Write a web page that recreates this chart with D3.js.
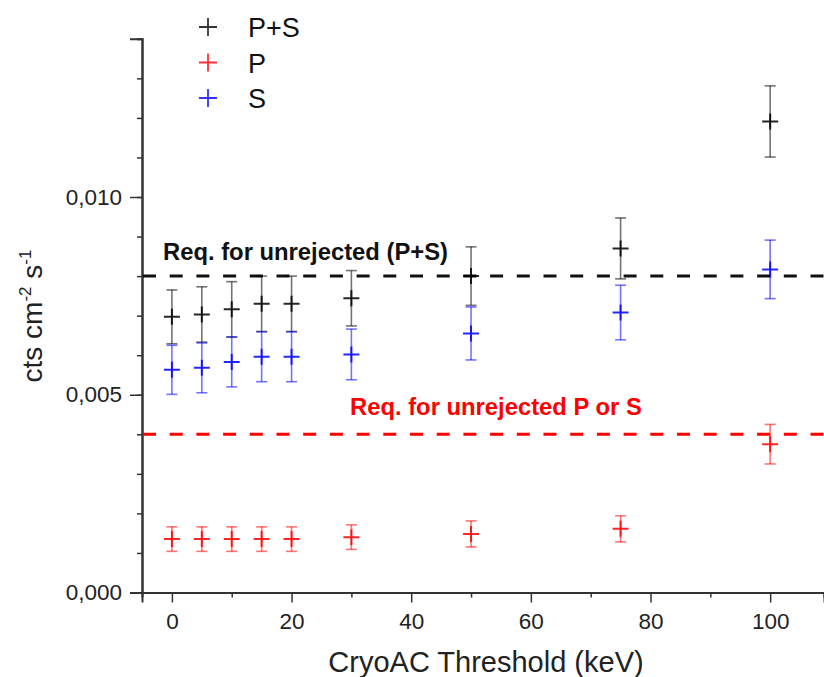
<!DOCTYPE html>
<html>
<head>
<meta charset="utf-8">
<script src="https://cdn.jsdelivr.net/npm/d3@7"></script>
<style>
  body { margin: 0; background: #fff; }
  svg { display: block; font-family: Arial, "Liberation Sans", sans-serif; }
</style>
</head>
<body>
<div id="chart"></div>
<script>
// thresholds (keV) and count rates
const thresholds = [0, 5, 10, 15, 20, 30, 50, 75, 100];
const psVal = [0.00697, 0.00703, 0.00716, 0.00730, 0.00730, 0.00744, 0.00800, 0.00870, 0.01191];
const psErr = [0.00068, 0.00070, 0.00070, 0.00070, 0.00070, 0.00070, 0.00074, 0.00077, 0.00090];
const pVal = [0.00135, 0.00135, 0.00135, 0.00135, 0.00135, 0.00140, 0.00148, 0.00161, 0.00375];
const pErr = [0.00031, 0.00031, 0.00031, 0.00031, 0.00031, 0.00031, 0.00033, 0.00033, 0.00050];
const sVal = [0.00563, 0.00568, 0.00583, 0.00596, 0.00596, 0.00602, 0.00655, 0.00708, 0.00817];
const sErr = [0.00062, 0.00063, 0.00063, 0.00063, 0.00063, 0.00064, 0.00067, 0.00069, 0.00074];
const seriesNames = ['P+S', 'P', 'S'];
const seriesColors = ['#000000', '#ff0000', '#0000ff'];
const reqValues = [0.008, 0.004];
const reqLabels = ['Req. for unrejected (P+S)', 'Req. for unrejected P or S'];
const xTicks = [0, 20, 40, 60, 80, 100];
const yTicks = [0, 0.005, 0.010];

const width = 824, height = 677;
const plotLeft = 142, plotBottom = 592.5, plotTop = 38.8;

const svg = d3.select('#chart').append('svg')
    .attr('width', width)
    .attr('height', height);

const x = d3.scaleLinear().domain([-5, 109]).range([plotLeft, width]);
const y = d3.scaleLinear().domain([0, 0.014]).range([plotBottom, plotTop]);

const fmt = d => d3.format('.3f')(d).replace('.', ',');

// axes
const xAxisG = svg.append('g')
    .attr('transform', 'translate(0,' + plotBottom + ')');
xAxisG.call(d3.axisBottom(x).tickValues(d3.range(10, 100, 20)).tickSize(5).tickFormat(''));
xAxisG.append('g').call(d3.axisBottom(x).tickValues(xTicks).tickSize(10).tickPadding(11).tickFormat(d3.format('d')));

const yAxisG = svg.append('g')
    .attr('transform', 'translate(' + plotLeft + ',0)');
yAxisG.call(d3.axisLeft(y).tickValues(d3.range(0.001, 0.0141, 0.001)).tickSize(5).tickFormat(''));
yAxisG.append('g').call(d3.axisLeft(y).tickValues(yTicks).tickSize(12).tickPadding(8).tickFormat(fmt));

svg.selectAll('.domain').attr('stroke', '#333').attr('stroke-width', 2);
svg.selectAll('.tick line').attr('stroke', '#333').attr('stroke-width', 1.5);
svg.selectAll('.tick text').attr('font-size', 22.5).attr('fill', '#222').attr('font-family', 'Arial, "Liberation Sans", sans-serif');

// axis titles
svg.append('text')
    .attr('x', 486)
    .attr('y', 672)
    .attr('text-anchor', 'middle')
    .attr('font-size', 29)
    .attr('fill', '#222')
    .text('CryoAC Threshold (keV)');

const yt = svg.append('text')
    .attr('transform', 'translate(42,316) rotate(-90)')
    .attr('text-anchor', 'middle')
    .attr('font-size', 28)
    .attr('fill', '#222');
yt.append('tspan').text('cts cm');
yt.append('tspan').attr('font-size', 17).attr('dy', -11).text('-2');
yt.append('tspan').attr('dy', 11).text(' s');
yt.append('tspan').attr('font-size', 17).attr('dy', -11).text('-1');

// requirement lines
svg.selectAll('.req')
    .data(reqValues)
    .enter()
    .append('line')
    .attr('x1', plotLeft + 1)
    .attr('x2', width)
    .attr('y1', d => y(d))
    .attr('y2', d => y(d))
    .attr('stroke', (d, i) => i === 0 ? '#111' : '#ff0000')
    .attr('stroke-width', 3)
    .attr('stroke-dasharray', '13,13.7');

svg.selectAll('.reqLabel')
    .data(reqValues)
    .enter()
    .append('text')
    .attr('x', (d, i) => i === 0 ? 163 : 350)
    .attr('y', (d, i) => i === 0 ? 260 : 415)
    .attr('font-size', 23.8)
    .attr('font-weight', 'bold')
    .attr('fill', (d, i) => i === 0 ? '#111' : '#ff0000')
    .text((d, i) => reqLabels[i]);

// series
const series = [
    { vals: psVal, errs: psErr },
    { vals: pVal, errs: pErr },
    { vals: sVal, errs: sErr }
];
const cap = 5.5, arm = 8;

series.forEach((s, si) => {
    const color = seriesColors[si];
    const pts = thresholds.map((t, i) => ({ t: t, v: s.vals[i], e: s.errs[i] }));
    const g = svg.append('g');
    // error bars
    const eb = g.selectAll('g.eb')
        .data(pts)
        .enter()
        .append('g')
        .attr('stroke', color)
        .attr('stroke-opacity', 0.55)
        .attr('stroke-width', 1.6);
    eb.append('line')
        .attr('x1', d => x(d.t)).attr('x2', d => x(d.t))
        .attr('y1', d => y(d.v + d.e)).attr('y2', d => y(d.v - d.e));
    eb.append('line')
        .attr('x1', d => x(d.t) - cap).attr('x2', d => x(d.t) + cap)
        .attr('y1', d => y(d.v + d.e)).attr('y2', d => y(d.v + d.e));
    eb.append('line')
        .attr('x1', d => x(d.t) - cap).attr('x2', d => x(d.t) + cap)
        .attr('y1', d => y(d.v - d.e)).attr('y2', d => y(d.v - d.e));
    // plus markers
    g.selectAll('path.mk')
        .data(pts)
        .enter()
        .append('path')
        .attr('d', d => 'M' + (x(d.t) - arm) + ',' + y(d.v) + 'h' + (2 * arm) +
            'M' + x(d.t) + ',' + (y(d.v) - arm) + 'v' + (2 * arm))
        .attr('stroke', color)
        .attr('stroke-opacity', 0.85)
        .attr('stroke-width', 2);
});

// legend
const legend = svg.append('g');
seriesNames.forEach((name, i) => {
    const ly = 27 + i * 35.5;
    legend.append('path')
        .attr('d', 'M199,' + ly + 'h18M208,' + (ly - 9) + 'v18')
        .attr('stroke', seriesColors[i])
        .attr('stroke-opacity', 0.8)
        .attr('stroke-width', 1.8);
    legend.append('text')
        .attr('x', 248)
        .attr('y', ly + 10)
        .attr('font-size', 27)
        .attr('fill', '#111')
        .text(name);
});
</script>
</body>
</html>
